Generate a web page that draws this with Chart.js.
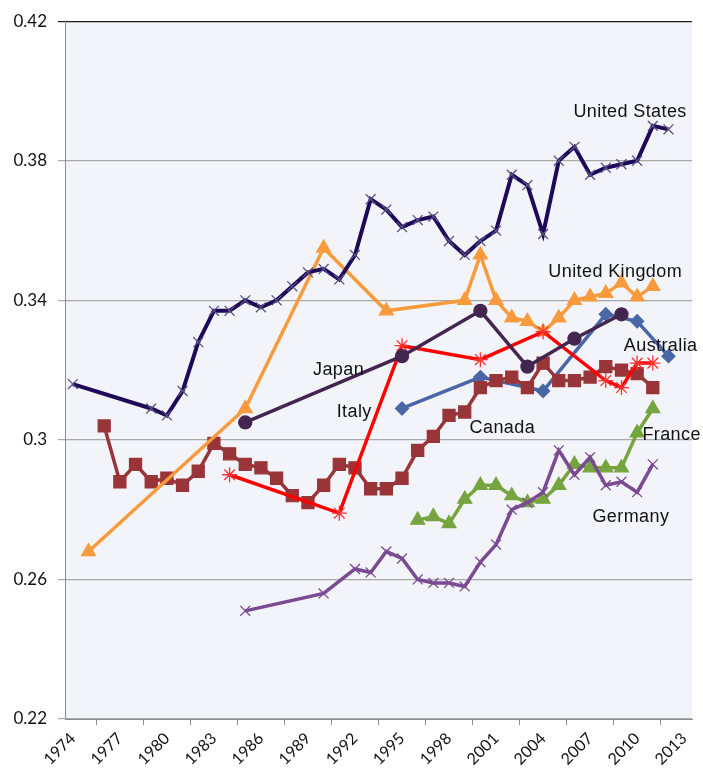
<!DOCTYPE html>
<html>
<head>
<meta charset="utf-8">
<script src="https://cdn.jsdelivr.net/npm/chart.js@4/dist/chart.umd.min.js"></script>
<style>
  html, body { margin: 0; padding: 0; background: #ffffff; }
  #wrap { width: 703px; height: 771px; position: relative; }
</style>
</head>
<body>
<div id="wrap"><canvas id="chart" width="703" height="771"></canvas></div>
<script>
const years = []
for (let y = 1974; y <= 2013; y++) years.push(String(y))

const usYears = [1974, 1979, 1980, 1981, 1982, 1983, 1984, 1985, 1986, 1987, 1988, 1989, 1990, 1991, 1992, 1993, 1994, 1995, 1996, 1997, 1998, 1999, 2000, 2001, 2002, 2003, 2004, 2005, 2006, 2007, 2008, 2009, 2010, 2011, 2012]
const usValues = [0.316, 0.309, 0.307, 0.314, 0.328, 0.337, 0.337, 0.340, 0.338, 0.340, 0.344, 0.348, 0.349, 0.346, 0.353, 0.369, 0.366, 0.361, 0.363, 0.364, 0.357, 0.353, 0.357, 0.360, 0.376, 0.373, 0.359, 0.380, 0.384, 0.376, 0.378, 0.379, 0.380, 0.390, 0.389]

const ukYears = [1975, 1985, 1990, 1994, 1999, 2000, 2001, 2002, 2003, 2004, 2005, 2006, 2007, 2008, 2009, 2010, 2011]
const ukValues = [0.268, 0.309, 0.355, 0.337, 0.340, 0.353, 0.340, 0.335, 0.334, 0.331, 0.335, 0.340, 0.341, 0.342, 0.345, 0.341, 0.344]

const japanYears = [1985, 1995, 2000, 2003, 2006, 2009]
const japanValues = [0.305, 0.324, 0.337, 0.321, 0.329, 0.336]

const italyYears = [1984, 1991, 1995, 2000, 2004, 2008, 2009, 2010, 2011]
const italyValues = [0.290, 0.279, 0.327, 0.323, 0.331, 0.317, 0.315, 0.322, 0.322]

const canadaYears = [1976, 1977, 1978, 1979, 1980, 1981, 1982, 1983, 1984, 1985, 1986, 1987, 1988, 1989, 1990, 1991, 1992, 1993, 1994, 1995, 1996, 1997, 1998, 1999, 2000, 2001, 2002, 2003, 2004, 2005, 2006, 2007, 2008, 2009, 2010, 2011]
const canadaValues = [0.304, 0.288, 0.293, 0.288, 0.289, 0.287, 0.291, 0.299, 0.296, 0.293, 0.292, 0.289, 0.284, 0.282, 0.287, 0.293, 0.292, 0.286, 0.286, 0.289, 0.297, 0.301, 0.307, 0.308, 0.315, 0.317, 0.318, 0.315, 0.322, 0.317, 0.317, 0.318, 0.321, 0.320, 0.319, 0.315]

const australiaYears = [1995, 2000, 2004, 2008, 2010, 2012]
const australiaValues = [0.309, 0.318, 0.314, 0.336, 0.334, 0.324]

const franceYears = [1996, 1997, 1998, 1999, 2000, 2001, 2002, 2003, 2004, 2005, 2006, 2007, 2008, 2009, 2010, 2011]
const franceValues = [0.277, 0.278, 0.276, 0.283, 0.287, 0.287, 0.284, 0.282, 0.283, 0.287, 0.293, 0.292, 0.292, 0.292, 0.302, 0.309]

const germanyYears = [1985, 1990, 1992, 1993, 1994, 1995, 1996, 1997, 1998, 1999, 2000, 2001, 2002, 2003, 2004, 2005, 2006, 2007, 2008, 2009, 2010, 2011]
const germanyValues = [0.251, 0.256, 0.263, 0.262, 0.268, 0.266, 0.260, 0.259, 0.259, 0.258, 0.265, 0.270, 0.280, 0.282, 0.285, 0.297, 0.290, 0.295, 0.287, 0.288, 0.285, 0.293]

const yTicks = [0.22, 0.26, 0.30, 0.34, 0.38, 0.42]

// series name labels, anchored to category index / value
const seriesLabels = [
  { text: 'United States', idx: 35.55, value: 0.394 },
  { text: 'United Kingdom', idx: 34.6, value: 0.348 },
  { text: 'Japan', idx: 16.95, value: 0.320 },
  { text: 'Italy', idx: 17.95, value: 0.308 },
  { text: 'Canada', idx: 27.4, value: 0.3035 },
  { text: 'Australia', idx: 37.5, value: 0.3268 },
  { text: 'France', idx: 38.2, value: 0.3015 },
  { text: 'Germany', idx: 35.6, value: 0.278 }
]

const toPoints = (ys, vs) => ys.map((y, i) => ({ x: String(y), y: vs[i] }))

const plotBackground = {
  id: 'plotBackground',
  beforeDraw (chart) {
    const { ctx, chartArea } = chart
    ctx.save()
    ctx.fillStyle = '#F3F4FA'
    ctx.fillRect(chartArea.left, chartArea.top, chartArea.right - chartArea.left, chartArea.bottom - chartArea.top)
    ctx.restore()
  }
}

const nameLabels = {
  id: 'nameLabels',
  afterDatasetsDraw (chart) {
    const { ctx, scales } = chart
    ctx.save()
    ctx.font = '18px "Liberation Sans", Arial, sans-serif'
    ctx.letterSpacing = '0.4px'
    ctx.fillStyle = '#111111'
    ctx.textAlign = 'center'
    ctx.textBaseline = 'middle'
    seriesLabels.forEach(l => {
      ctx.fillText(l.text, scales.x.getPixelForValue(l.idx), scales.y.getPixelForValue(l.value))
    })
    ctx.restore()
  }
}

const line = (label, data, color, pointStyle, radius, width, markerColor, order) => ({
  label,
  data,
  borderColor: color,
  backgroundColor: markerColor,
  pointBackgroundColor: markerColor,
  pointBorderColor: markerColor,
  pointStyle,
  pointRadius: radius,
  pointBorderWidth: 1.3,
  borderWidth: width,
  tension: 0,
  order
})

new Chart(document.getElementById('chart'), {
  type: 'line',
  data: {
    labels: years,
    datasets: [
      line('United States', toPoints(usYears, usValues), '#1E0A58', 'crossRot', 7, 4, '#5B5285', 1),
      line('United Kingdom', toPoints(ukYears, ukValues), '#F99B3C', 'triangle', 8, 3.5, '#F99B3C', 5),
      line('Japan', toPoints(japanYears, japanValues), '#432650', 'circle', 6.5, 3.5, '#432650', 3),
      line('Italy', toPoints(italyYears, italyValues), '#FF0000', 'star', 7.5, 3.5, '#FF3030', 4),
      line('Canada', toPoints(canadaYears, canadaValues), '#993538', 'rect', 8.5, 3.5, '#993538', 6),
      line('Australia', toPoints(australiaYears, australiaValues), '#4A66A6', 'rectRot', 6.5, 3.5, '#4A66A6', 7),
      line('France', toPoints(franceYears, franceValues), '#76A43E', 'triangle', 8, 3.5, '#76A43E', 8),
      line('Germany', toPoints(germanyYears, germanyValues), '#7A4A92', 'crossRot', 7, 3.5, '#7A4A92', 2)
    ]
  },
  options: {
    responsive: false,
    animation: false,
    layout: { padding: { top: 20, right: 11, left: 0, bottom: 0 } },
    plugins: {
      legend: { display: false },
      tooltip: { enabled: false }
    },
    scales: {
      x: {
        type: 'category',
        offset: true,
        afterFit: scale => { scale.height = 52 },
        grid: {
          offset: true,
          drawOnChartArea: false,
          drawTicks: true,
          tickLength: 6,
          color: '#8C8C8C'
        },
        border: { color: '#8C8C8C', width: 1 },
        ticks: {
          autoSkip: false,
          maxRotation: 45,
          minRotation: 45,
          padding: 4,
          color: '#111111',
          font: { family: 'Lato, "Open Sans", sans-serif', size: 16 },
          callback: function (value) {
            const yr = Number(this.getLabelForValue(value))
            return (yr - 1974) % 3 === 0 ? String(yr) : null
          }
        }
      },
      y: {
        min: 0.22,
        max: 0.42,
        afterFit: scale => { scale.width = 65 },
        afterBuildTicks: scale => { scale.ticks = yTicks.map(v => ({ value: v })) },
        grid: {
          color: ctx => (ctx.tick && ctx.tick.value >= 0.42 ? '#1a1a1a' : '#A8A8A8'),
          lineWidth: 1.2,
          drawTicks: true,
          tickLength: 7
        },
        border: { color: '#8C8C8C', width: 1 },
        ticks: {
          padding: 11,
          color: '#111111',
          font: { family: 'Lato, "Open Sans", sans-serif', size: 17 },
          callback: v => String(Math.round(v * 100) / 100)
        }
      }
    }
  },
  plugins: [plotBackground, nameLabels]
})
</script>
</body>
</html>
